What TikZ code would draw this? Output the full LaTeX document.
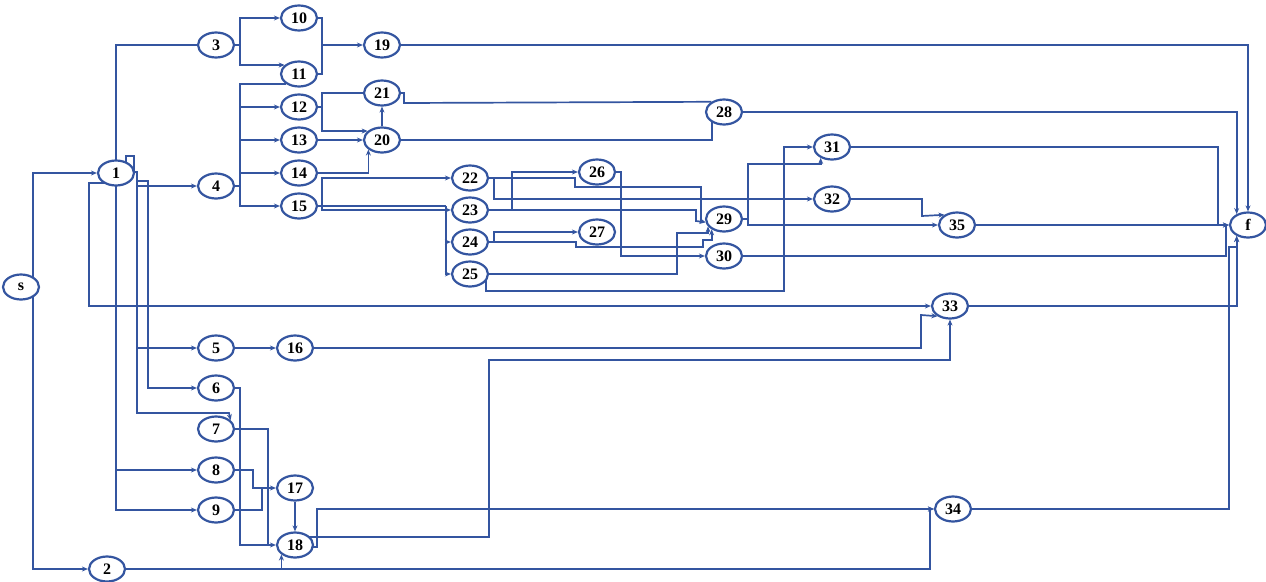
\documentclass[tikz,border=0pt]{standalone}
\usepackage{fontspec}
\setmainfont{Liberation Serif}
\usetikzlibrary{shapes.geometric,arrows.meta,backgrounds}
\definecolor{lc}{RGB}{52,85,160}
\begin{document}
\begin{tikzpicture}[x=1pt,y=-1pt,
  nd/.style={ellipse,draw=lc,line width=2.2pt,fill=white,minimum width=36pt,minimum height=25pt,inner sep=0pt,font=\fontsize{16}{16}\selectfont\bfseries},
  ed/.style={draw=lc,line width=1.7pt,-{Stealth[length=6pt,width=5pt]}},
  ln/.style={draw=lc,line width=1.7pt}]
\useasboundingbox (0,0) rectangle (1266,581);
% nodes
\node[nd] (s) at (21,287) {s};
\node[nd] (n1) at (116,173) {1};
\node[nd] (n2) at (107,569) {2};
\node[nd] (n3) at (216,45) {3};
\node[nd] (n4) at (216,186) {4};
\node[nd] (n5) at (216,348) {5};
\node[nd] (n6) at (216,388) {6};
\node[nd] (n7) at (216,429) {7};
\node[nd] (n8) at (216,470) {8};
\node[nd] (n9) at (216,510) {9};
\node[nd] (n10) at (299,18) {10};
\node[nd] (n11) at (299,74) {11};
\node[nd] (n12) at (299,107) {12};
\node[nd] (n13) at (299,140) {13};
\node[nd] (n14) at (299,173) {14};
\node[nd] (n15) at (299,206) {15};
\node[nd] (n16) at (295,348) {16};
\node[nd] (n17) at (295,488) {17};
\node[nd] (n18) at (295,545) {18};
\node[nd] (n19) at (382,45) {19};
\node[nd] (n20) at (382,140) {20};
\node[nd] (n21) at (382,93) {21};
\node[nd] (n22) at (470,178) {22};
\node[nd] (n23) at (470,210) {23};
\node[nd] (n24) at (470,242) {24};
\node[nd] (n25) at (470,274) {25};
\node[nd] (n26) at (597,172) {26};
\node[nd] (n27) at (597,232) {27};
\node[nd] (n28) at (724,112) {28};
\node[nd] (n29) at (724,219) {29};
\node[nd] (n30) at (724,256) {30};
\node[nd] (n31) at (832,147) {31};
\node[nd] (n32) at (832,199) {32};
\node[nd] (n33) at (950,306) {33};
\node[nd] (n34) at (953,509) {34};
\node[nd] (n35) at (957,225) {35};
\node[nd] (f) at (1248,225) {f};
\begin{pgfonlayer}{background}
\fill[white] (0,0) rectangle (1266,581);
% s
\draw[ed] ([xshift=12pt]s.center) |- (n1);
\draw[ed] ([xshift=12pt]s.center) |- (n2);
% 1
\draw[ln] (n1.center) |- (n3);
\draw[ed] (n1.center) |- (n8);
\draw[ed] (n1.center) |- (n9);
\draw[ed] (116,183) -| (89,306) -- (n33);
\draw[ed] (126,166) -- (126,156) -- (134,156) -- (134,172) -- (137,172) |- (n4);
\draw[ed] (137,172) |- (n5);
\draw[ed] (137,172) |- (229,413) -- (n7.31);
\draw[ed] (137,181) -- (148,181) |- (n6);
% 3, 4
\draw[ed] (n3) -- (240,45) |- (n10);
\draw[ed] (240,45) |- (n11.148);
\draw[ln] (n4) -- (240,186) |- (n11.219);
\draw[ed] (240,186) |- (n12);
\draw[ed] (240,186) |- (n13);
\draw[ed] (240,186) |- (n14);
\draw[ed] (240,186) |- (n15);
% 10, 11 -> 19
\draw[ln] (n10) -| (322,45);
\draw[ln] (n11) -| (322,45);
\draw[ed] (322,45) -- (n19);
\draw[ed] (n19) -| (f);
% 12, 13, 14 -> 20, 21
\draw[ln] (n12) -- (322,107) |- (n21);
\draw[ed] (322,107) |- (n20.148);
\draw[ed] (n13) -- (n20);
\draw[ed] (n14) -| (n20.215);
\draw[ed] (n20) -- (n21);
\draw[ln] (n21) -| (404,103) -- (n28.141);
\draw[ln] (n20) -| (n28.220);
\draw[ed] (n28) -| (f.136);
% 15
\draw[ln] (n15) -- (446,206);
\draw[ln] (322,206) |- (446,210);
\draw[ed] (322,206) |- (n22);
\draw[ed] (446,206) |- (n23);
\draw[ed] (446,206) |- (n24);
\draw[ed] (446,206) |- (n25);
% 22..25
\draw[ed] (n22) -| (575,187) -| (701,221) -- (n29.190);
\draw[ed] (494,178) |- (n32);
\draw[ed] (n23) -- (512,210) |- (n26);
\draw[ed] (512,210) -| (696,221) -- (n29.190);
\draw[ed] (n24) -- (494,242) |- (n27);
\draw[ed] (n24) -| (576,247) -| (703,240) -| (n29.220);
\draw[ed] (n25) -| (677,233) -| (n29.205);
\draw[ed] ([xshift=16pt]n25.center) |- (784,291) |- (n31);
% 26, 29
\draw[ed] (n26) -| (621,256) -- (n30);
\draw[ed] (n29) -| (748,164) -| (n31.224);
\draw[ed] (748,219) |- (n35);
% 30..35 -> f
\draw[ed] (n30) -| (1226,225) -- (f);
\draw[ln] (n31) -| (1218,225);
\draw[ed] (n32) -| (922,216) -- (n35.141);
\draw[ed] (n35) -- (f);
\draw[ed] (n33) -| (f.224);
\draw[ed] (n34) -| (1229,247) -| (f.224);
% 5, 16
\draw[ed] (n5) -- (n16);
\draw[ed] (n16) -| (921,315) -- (n33.219);
% 6..9 -> 17, 18
\draw[ed] (n6) -| (240,545) -- (n18);
\draw[ln] (n7) -| (268,545);
\draw[ed] (n8) -| (253,488) -- (n17);
\draw[ln] (n9) -| (262,488);
\draw[ed] (n17) -- (n18);
% 18, 2
\draw[ed] ([shift={(10,-8)}]n18.center) -| (489,360) -| (n33);
\draw[ed] ([shift={(12,2)}]n18.center) -| (317,509) -- (n34);
\draw[ed] (n2) -| (n18.215);
\draw[ed] (n2) -| (930,509) -- (n34);
\end{pgfonlayer}
\end{tikzpicture}
\end{document}
